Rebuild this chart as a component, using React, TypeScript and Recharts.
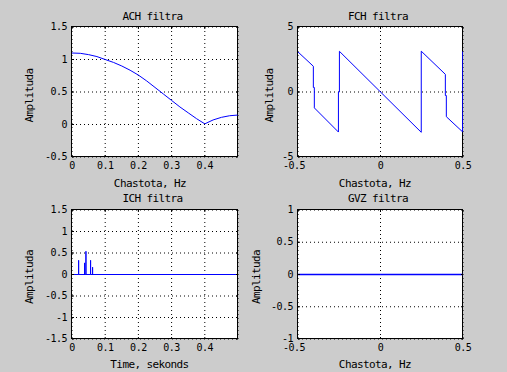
import React from 'react'
import { LineChart, Line, XAxis, YAxis, CartesianGrid } from 'recharts'

// ACH filtra: amplitude response
const achFreq = [
  0, 0.025, 0.05, 0.075, 0.1, 0.125, 0.15, 0.175, 0.2, 0.225, 0.25, 0.275,
  0.3, 0.325, 0.35, 0.375, 0.4, 0.425, 0.45, 0.475, 0.499,
]
const achAmp = [
  1.1, 1.095, 1.075, 1.045, 1.0, 0.955, 0.9, 0.835, 0.76, 0.67, 0.57, 0.47,
  0.37, 0.27, 0.18, 0.09, 0.01, 0.07, 0.11, 0.135, 0.145,
]

// FCH filtra: wrapped phase, with its jumps
const fchFreq = [
  -0.5, -0.407, -0.407, -0.401, -0.401, -0.255, -0.255, -0.249, -0.249, 0.247,
  0.247, 0.393, 0.393, 0.399, 0.399, 0.497, 0.498, 0.498,
]
const fchPhase = [
  3.08, 1.98, 0.35, 0.35, -1.22, -3.08, 0.0, 0.0, 3.13, -3.1, 3.14, 1.36,
  -0.27, -0.27, -1.9, -3.06, -1.57, 3.12,
]

// ICH filtra: impulse response spikes on a zero line from 0 to 0.5 s
const ichStart = 0
const ichEnd = 0.5
const ichSpikeTime = [0.02, 0.038, 0.042, 0.056, 0.062]
const ichSpikeAmp = [0.33, 0.27, 0.54, 0.33, 0.17]

// GVZ filtra: group delay
const gvzFreq = [-0.5, -0.25, 0, 0.25, 0.5]
const gvzDelay = [0, 0, 0, 0, 0]

const halfFreqTicks = [0, 0.1, 0.2, 0.3, 0.4]
const fullFreqTicks = [-0.5, 0, 0.5]
const achTicks = [-0.5, 0, 0.5, 1, 1.5]
const fchTicks = [-5, 0, 5]
const ichTicks = [-1.5, -1, -0.5, 0, 0.5, 1, 1.5]
const gvzTicks = [-1, -0.5, 0, 0.5, 1]

const achData = achFreq.map((x, i) => ({ x, y: achAmp[i] }))
const fchData = fchFreq.map((x, i) => ({ x, y: fchPhase[i] }))
const ichData = [
  { x: ichStart, y: 0 },
  ...ichSpikeTime.flatMap((t, i) => [
    { x: t, y: 0 },
    { x: t, y: ichSpikeAmp[i] },
    { x: t, y: 0 },
  ]),
  { x: ichEnd, y: 0 },
]
const gvzData = gvzFreq.map((x, i) => ({ x, y: gvzDelay[i] }))

const FONT = '"DejaVu Sans Mono", "Liberation Mono", monospace'
const BLUE = '#0000ff'

// margins around the plot box inside each chart
const ML = 60
const MT = 10
const MR = 10
const MB = 40

const XTick = (props: any) => {
  const { x, y, payload, plotHeight } = props
  const v = payload.value
  return (
    <g>
      <line x1={x} y1={y} x2={x} y2={y - 2} stroke="#000" />
      <line x1={x} y1={y - plotHeight} x2={x} y2={y - plotHeight + 2} stroke="#000" />
      <text
        x={v < 0 ? x - 4 : x}
        y={y + 12.3}
        textAnchor="middle"
        fontFamily={FONT}
        fontSize={10}
        letterSpacing={-0.5}
        fill="#000"
      >
        {String(v)}
      </text>
    </g>
  )
}

const YTick = (props: any) => {
  const { x, y, payload, plotWidth } = props
  return (
    <g>
      <line x1={x} y1={y} x2={x + 2} y2={y} stroke="#000" />
      <line x1={x + plotWidth} y1={y} x2={x + plotWidth - 2} y2={y} stroke="#000" />
      <text
        x={x - 5}
        y={y + 3.1}
        textAnchor="end"
        fontFamily={FONT}
        fontSize={10}
        letterSpacing={-0.5}
        fill="#000"
      >
        {String(payload.value)}
      </text>
    </g>
  )
}

type PanelProps = {
  left: number
  top: number
  w: number
  h: number
  data: { x: number; y: number }[]
  xDomain: [number, number]
  yDomain: [number, number]
  xTicks: number[]
  yTicks: number[]
  lineWidth?: number
}

function Panel({ left, top, w, h, data, xDomain, yDomain, xTicks, yTicks, lineWidth = 1 }: PanelProps) {
  return (
    <>
      {/* white axes box with black frame, under the chart */}
      <div
        style={{
          position: 'absolute',
          left,
          top,
          width: w + 1,
          height: h + 1,
          boxSizing: 'border-box',
          border: '1px solid #000',
          background: '#fff',
        }}
      />
      <div style={{ position: 'absolute', left: left - ML + 0.5, top: top - MT + 0.5 }}>
        <LineChart
          width={ML + w + MR}
          height={MT + h + MB}
          data={data}
          margin={{ top: MT, right: MR, bottom: 0, left: 0 }}
        >
          <CartesianGrid stroke="#000" strokeDasharray="1 3" />
          <XAxis
            dataKey="x"
            type="number"
            domain={xDomain}
            ticks={xTicks}
            interval={0}
            height={MB}
            axisLine={false}
            tickLine={false}
            tickSize={0}
            tickMargin={0}
            tick={<XTick plotHeight={h} />}
            allowDataOverflow
          />
          <YAxis
            type="number"
            domain={yDomain}
            ticks={yTicks}
            interval={0}
            width={ML}
            axisLine={false}
            tickLine={false}
            tickSize={0}
            tickMargin={0}
            tick={<YTick plotWidth={w} />}
            allowDataOverflow
          />
          <Line
            dataKey="y"
            type="linear"
            stroke={BLUE}
            strokeWidth={lineWidth}
            dot={false}
            activeDot={false}
            isAnimationActive={false}
          />
        </LineChart>
      </div>
    </>
  )
}

const textStyle = { fontFamily: FONT, fontSize: 11, letterSpacing: -0.6 }

export default function App() {
  return (
    <div
      style={{
        position: 'absolute',
        left: 0,
        top: 0,
        width: 507,
        height: 372,
        background: '#cccccc',
        overflow: 'hidden',
      }}
    >
      <Panel
        left={71}
        top={26}
        w={166}
        h={130}
        data={achData}
        xDomain={[0, 0.5]}
        yDomain={[-0.5, 1.5]}
        xTicks={halfFreqTicks}
        yTicks={achTicks}
      />
      <Panel
        left={297}
        top={26}
        w={165}
        h={130}
        data={fchData}
        xDomain={[-0.5, 0.5]}
        yDomain={[-5, 5]}
        xTicks={fullFreqTicks}
        yTicks={fchTicks}
      />
      <Panel
        left={71}
        top={209}
        w={166}
        h={129}
        data={ichData}
        xDomain={[0, 0.5]}
        yDomain={[-1.5, 1.5]}
        xTicks={halfFreqTicks}
        yTicks={ichTicks}
      />
      <Panel
        left={297}
        top={209}
        w={165}
        h={129}
        data={gvzData}
        xDomain={[-0.5, 0.5]}
        yDomain={[-1, 1]}
        xTicks={fullFreqTicks}
        yTicks={gvzTicks}
        lineWidth={1.6}
      />
      <svg
        width={507}
        height={372}
        style={{ position: 'absolute', left: 0, top: 0, pointerEvents: 'none' }}
      >
        <g {...textStyle} fill="#000" textAnchor="middle">
          <text x={152.5} y={20}>ACH filtra</text>
          <text x={378} y={20}>FCH filtra</text>
          <text x={152.5} y={201.5}>ICH filtra</text>
          <text x={378} y={201.5}>GVZ filtra</text>
          <text x={150} y={186.5}>Chastota, Hz</text>
          <text x={375} y={186.5}>Chastota, Hz</text>
          <text x={149.5} y={368}>Time, sekonds</text>
          <text x={375} y={368}>Chastota, Hz</text>
          <text x={33} y={95.5} transform="rotate(-90 33 95.5)">Amplituda</text>
          <text x={273} y={95.5} transform="rotate(-90 273 95.5)">Amplituda</text>
          <text x={33} y={277} transform="rotate(-90 33 277)">Amplituda</text>
          <text x={260} y={277} transform="rotate(-90 260 277)">Amplituda</text>
        </g>
      </svg>
    </div>
  )
}
